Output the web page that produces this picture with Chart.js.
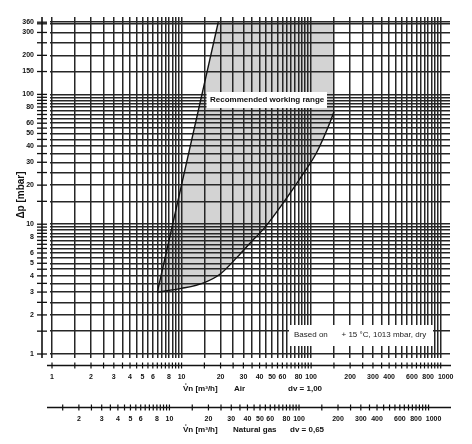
<!DOCTYPE html>
<html>
<head>
<meta charset="utf-8">
<script src="https://cdn.jsdelivr.net/npm/chart.js@4"></script>
<style>
  html, body { margin: 0; padding: 0; background: #ffffff; }
  #chartCanvas { display: block; }
</style>
</head>
<body>
<canvas id="chartCanvas" width="472" height="444"></canvas>
<script>
/* =========================
   Data
========================= */
// flow grid / tick values, m3/h (air)
const flowGrid = [1, 1.5, 2, 2.5, 3, 3.5, 4, 4.5, 5, 5.5, 6, 6.5, 7, 7.5, 8, 8.5, 9, 9.5, 10,
  15, 20, 25, 30, 35, 40, 45, 50, 55, 60, 65, 70, 75, 80, 85, 90, 95, 100,
  150, 200, 250, 300, 350, 400, 450, 500, 550, 600, 650, 700, 750, 800, 850, 900, 950, 1000];
const airLabels = [1, 2, 3, 4, 5, 6, 8, 10, 20, 30, 40, 50, 60, 80, 100, 200, 300, 400, 600, 800, 1000];
const gasLabels = [2, 3, 4, 5, 6, 8, 10, 20, 30, 40, 50, 60, 80, 100, 200, 300, 400, 600, 800, 1000];
const gasDensity = 0.65;

// pressure grid / tick values, mbar
const pressureGrid = [1, 1.5, 2, 2.5, 3, 3.5, 4, 4.5, 5, 5.5, 6, 6.5, 7, 7.5, 8, 8.5, 9, 9.5, 10,
  15, 20, 25, 30, 35, 40, 45, 50, 55, 60, 65, 70, 75, 80, 85, 90, 95, 100,
  150, 200, 250, 300, 350, 360];
const pressureLabels = [1, 2, 3, 4, 5, 6, 8, 10, 20, 30, 40, 50, 60, 80, 100, 150, 200, 300, 360];

// working range limits
const leftFlow = [6.5, 19.2];
const leftDp = [3, 360];
const rightFlow = [6.5, 10, 15, 20, 27, 34, 43, 63, 87, 110, 140, 150];
const rightDp = [3, 3.2, 3.55, 4.15, 5.6, 7.2, 9.2, 15.3, 24.5, 35.5, 61, 73.5];
const rangeTopDp = 360;

const FONT = "'Liberation Sans', Arial, sans-serif";

const leftLine = leftFlow.map((x, i) => ({ x: x, y: leftDp[i] }));
const rightLine = rightFlow.map((x, i) => ({ x: x, y: rightDp[i] }));
const rangeShape = [
  ...leftLine,
  { x: rightFlow[rightFlow.length - 1], y: rangeTopDp },
  ...rightLine.slice().reverse()
];

/* =========================
   Axes, labels and boxes
========================= */
const decorPlugin = {
  id: "decor",
  afterDraw: (chart) => {
    const ctx = chart.ctx;
    const xs = chart.scales.x;
    const ys = chart.scales.y;
    ctx.save();
    ctx.strokeStyle = "#111";
    ctx.fillStyle = "#111";

    // y axis
    ctx.lineWidth = 1.6;
    ctx.beginPath();
    ctx.moveTo(42, 17);
    ctx.lineTo(42, 358);
    ctx.stroke();
    ctx.lineWidth = 1.3;
    pressureGrid.forEach(v => {
      const py = ys.getPixelForValue(v);
      ctx.beginPath();
      ctx.moveTo(37, py);
      ctx.lineTo(47, py);
      ctx.stroke();
    });
    ctx.font = "bold 7px " + FONT;
    ctx.textAlign = "right";
    ctx.textBaseline = "middle";
    pressureLabels.forEach(v => {
      ctx.fillText(String(v), 34, ys.getPixelForValue(v));
    });

    ctx.save();
    ctx.translate(21, 195);
    ctx.rotate(-Math.PI / 2);
    ctx.font = "bold 10px " + FONT;
    ctx.textAlign = "center";
    ctx.fillText("\u0394p [mbar]", 0, 0);
    ctx.restore();

    // flow axes (air, natural gas)
    const drawFlowAxis = (axisY, factor, ticks, labels) => {
      ctx.lineWidth = 1.6;
      ctx.beginPath();
      ctx.moveTo(47, axisY);
      ctx.lineTo(451, axisY);
      ctx.stroke();
      ctx.lineWidth = 1.2;
      ticks.forEach(v => {
        const px = xs.getPixelForValue(v * factor);
        ctx.beginPath();
        ctx.moveTo(px, axisY - 3);
        ctx.lineTo(px, axisY + 3);
        ctx.stroke();
      });
      ctx.font = "bold 7px " + FONT;
      ctx.textAlign = "center";
      ctx.textBaseline = "middle";
      labels.forEach(v => {
        // last label sits a little to the right so it clears "800"
        const shift = v === 1000 ? 5 : 0;
        ctx.fillText(String(v), xs.getPixelForValue(v * factor) + shift, axisY + 11.5);
      });
    };
    drawFlowAxis(365.5, 1, flowGrid, airLabels);
    drawFlowAxis(407.5, Math.sqrt(gasDensity), flowGrid.filter(v => v >= 1.5), gasLabels);

    ctx.font = "bold 8px " + FONT;
    ctx.textAlign = "left";
    ctx.textBaseline = "middle";
    ctx.fillText("V\u030An [m\u00B3/h]", 183, 388.5);
    ctx.fillText("Air", 234, 388.5);
    ctx.fillText("dv = 1,00", 288, 388.5);
    ctx.fillText("V\u030An [m\u00B3/h]", 183, 429.5);
    ctx.fillText("Natural gas", 233, 429.5);
    ctx.fillText("dv = 0,65", 290, 429.5);

    // text boxes
    ctx.fillStyle = "#ffffff";
    ctx.fillRect(206.5, 92, 120.5, 16);
    ctx.fillRect(289, 325, 144, 21);
    ctx.fillStyle = "#111";
    ctx.font = "bold 8px " + FONT;
    ctx.fillText("Recommended working range", 210, 100);
    ctx.fillStyle = "#222";
    ctx.font = "8px " + FONT;
    ctx.fillText("Based on", 294, 334.5);
    ctx.fillText("+ 15 \u00B0C, 1013 mbar, dry", 341.5, 334.5);
    ctx.restore();
  }
};

/* =========================
   Chart
========================= */
const gridOptions = {
  color: "#262626",
  lineWidth: 1.5,
  drawTicks: false
};

const ctx = document.getElementById("chartCanvas").getContext("2d");
const chart = new Chart(ctx, {
  type: "scatter",
  data: {
    datasets: [
      {
        label: "Recommended working range",
        data: rangeShape,
        showLine: true,
        fill: "shape",
        backgroundColor: "#d3d3d3",
        borderWidth: 0,
        pointRadius: 0,
        tension: 0
      },
      {
        label: "Left limit",
        data: leftLine,
        showLine: true,
        borderColor: "#111",
        borderWidth: 1.4,
        pointRadius: 0,
        fill: false
      },
      {
        label: "Right limit",
        data: rightLine,
        showLine: true,
        borderColor: "#111",
        borderWidth: 1.4,
        pointRadius: 0,
        cubicInterpolationMode: "monotone",
        fill: false
      }
    ]
  },
  options: {
    responsive: false,
    animation: false,
    events: [],
    layout: { padding: { left: 50, top: 17, right: 22, bottom: 86 } },
    plugins: {
      legend: { display: false },
      tooltip: { enabled: false },
      filler: { drawTime: "beforeDraw" }
    },
    scales: {
      x: {
        type: "logarithmic",
        min: 0.965,
        max: 1180,
        afterBuildTicks: (axis) => { axis.ticks = flowGrid.map(v => ({ value: v })); },
        ticks: { display: false, autoSkip: false },
        grid: gridOptions,
        border: { display: false }
      },
      y: {
        type: "logarithmic",
        min: 0.9315,
        max: 394.8,
        afterBuildTicks: (axis) => { axis.ticks = pressureGrid.map(v => ({ value: v })); },
        ticks: { display: false, autoSkip: false },
        grid: gridOptions,
        border: { display: false }
      }
    }
  },
  plugins: [decorPlugin]
});
</script>
</body>
</html>
